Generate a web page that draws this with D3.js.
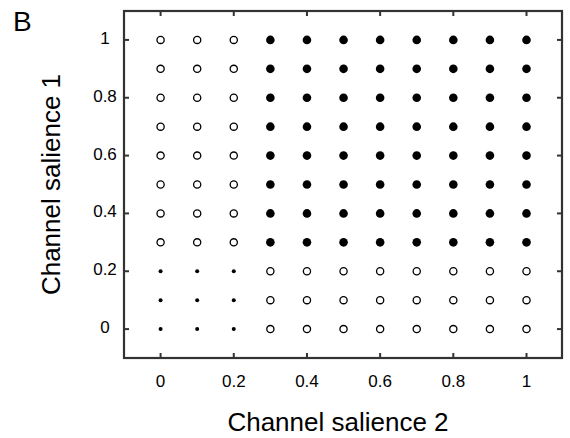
<!DOCTYPE html>
<html><head><meta charset="utf-8">
<script src="https://cdn.jsdelivr.net/npm/d3@7"></script>
<style>body{margin:0;background:#fff}svg{display:block}text{font-family:Arial,"Liberation Sans",sans-serif;fill:#000}</style>
</head><body>
<script>
const salience2 = [0, 0.1, 0.2, 0.3, 0.4, 0.5, 0.6, 0.7, 0.8, 0.9, 1];
const salience1 = [0, 0.1, 0.2, 0.3, 0.4, 0.5, 0.6, 0.7, 0.8, 0.9, 1];
// marker type per row (salience1 from 0 up to 1), per column (salience2 0..1)
// s = small dot, o = open circle, f = filled dot
const outcome = [
  "sssoooooooo",
  "sssoooooooo",
  "sssoooooooo",
  "oooffffffff",
  "oooffffffff",
  "oooffffffff",
  "oooffffffff",
  "oooffffffff",
  "oooffffffff",
  "oooffffffff",
  "oooffffffff"
];
const tickValues = [0, 0.2, 0.4, 0.6, 0.8, 1];
const tickLabels = ["0", "0.2", "0.4", "0.6", "0.8", "1"];
const xTitle = "Channel salience 2";
const yTitle = "Channel salience 1";
const panel = "B";

const W = 570, H = 438;
const L = 124, R = 562, T = 11, B = 358;
const svg = d3.select("body").append("svg").attr("width", W).attr("height", H);
const x = d3.scaleLinear().domain([-0.1, 1.097]).range([L, R]);
const y = d3.scaleLinear().domain([-0.1, 1.1]).range([B, T]);

const cells = [];
salience1.forEach((v1, i) => salience2.forEach((v2, j) => cells.push({x: v2, y: v1, t: outcome[i][j]})));

const g = svg.append("g");
g.selectAll("circle").data(cells).enter().append("circle")
  .attr("cx", d => x(d.x)).attr("cy", d => y(d.y))
  .attr("r", d => d.t === "s" ? 2 : d.t === "f" ? 4.3 : 3.6)
  .attr("fill", d => d.t === "o" ? "#fff" : "#000")
  .attr("stroke", d => d.t === "o" ? "#000" : "none")
  .attr("stroke-width", 1.3);

const frameColor = "#333";
const tl = 5;
const ax = svg.append("g").attr("stroke", frameColor).attr("stroke-width", 2);
tickValues.forEach(v => {
  ax.append("line").attr("x1", x(v)).attr("x2", x(v)).attr("y1", B).attr("y2", B - tl);
  ax.append("line").attr("x1", x(v)).attr("x2", x(v)).attr("y1", T).attr("y2", T + tl);
  ax.append("line").attr("y1", y(v)).attr("y2", y(v)).attr("x1", L).attr("x2", L + tl);
  ax.append("line").attr("y1", y(v)).attr("y2", y(v)).attr("x1", R).attr("x2", R - tl);
});
svg.append("rect").attr("x", L).attr("y", T).attr("width", R - L).attr("height", B - T)
  .attr("fill", "none").attr("stroke", frameColor).attr("stroke-width", 2.2);

svg.append("g").selectAll("text").data(tickValues).enter().append("text")
  .attr("x", d => x(d)).attr("y", 387).attr("text-anchor", "middle")
  .style("font-size", "17px").text((d, i) => tickLabels[i]);
svg.append("g").selectAll("text").data(tickValues).enter().append("text")
  .attr("x", 105).attr("y", d => y(d) + 4).attr("text-anchor", "middle")
  .style("font-size", "17px").text((d, i) => tickLabels[i]);

svg.append("text").attr("x", 338).attr("y", 431).attr("text-anchor", "middle")
  .style("font-size", "26px").text(xTitle);
svg.append("text").attr("transform", `translate(60,${(T + B) / 2}) rotate(-90)`)
  .attr("text-anchor", "middle").style("font-size", "26px").text(yTitle);
svg.append("text").attr("x", 13).attr("y", 31).style("font-size", "28px").text(panel);
</script>
</body></html>
